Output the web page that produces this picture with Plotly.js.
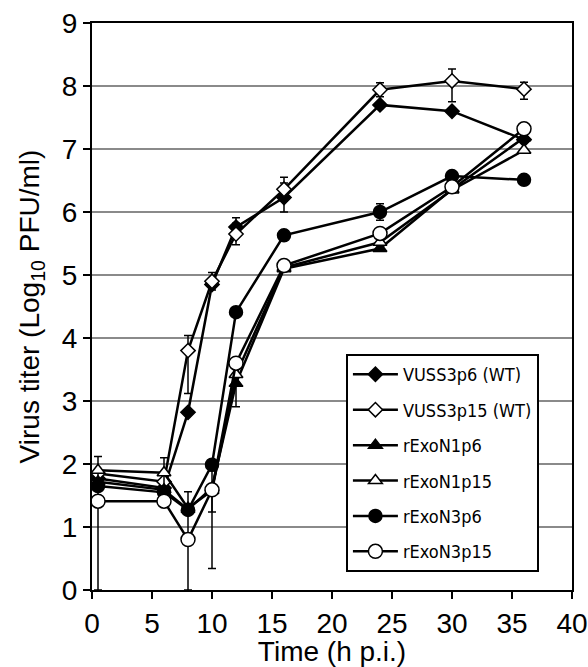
<!DOCTYPE html>
<html>
<head>
<meta charset="utf-8">
<script src="https://cdn.plot.ly/plotly-3.0.1.min.js"></script>
<style>html,body{margin:0;padding:0;background:#fff;}#chart{width:588px;height:667px;}</style>
</head>
<body>
<div id="chart"></div>
<script>
var times = [0.5, 6, 8, 10, 12, 16, 24, 30, 36];

var seriesNames = ["VUSS3p6 (WT)", "VUSS3p15 (WT)", "rExoN1p6", "rExoN1p15", "rExoN3p6", "rExoN3p15"];

var VUSS3p6   = [1.77, 1.62, 2.82, 4.85, 5.76, 6.23, 7.70, 7.60, 7.15];
var VUSS3p15  = [1.85, 1.72, 3.80, 4.90, 5.65, 6.36, 7.94, 8.08, 7.95];
var rExoN1p6  = [1.72, 1.59, 1.28, 1.62, 3.28, 5.10, 5.42, 6.36, 7.18];
var rExoN1p15 = [1.90, 1.86, 1.30, 1.58, 3.42, 5.12, 5.52, 6.35, 6.98];
var rExoN3p6  = [1.65, 1.55, 1.27, 1.99, 4.41, 5.63, 6.00, 6.57, 6.51];
var rExoN3p15 = [1.41, 1.41, 0.80, 1.59, 3.60, 5.15, 5.66, 6.40, 7.32];

var N = NaN;
var VUSS3p6_errPlus   = [N, N, N, N, 0.15, 0.23, N, N, N];
var VUSS3p6_errMinus  = [N, N, N, N, 0.15, 0.23, N, N, N];
var VUSS3p15_errPlus  = [N, N, 0.24, 0.14, 0.17, 0.19, 0.11, 0.19, 0.11];
var VUSS3p15_errMinus = [N, N, 0.68, 0.14, 0.17, 0.19, 0.11, 0.33, 0.16];
var rExoN1p6_errPlus  = [N, N, N, 0, 0, N, N, N, N];
var rExoN1p6_errMinus = [N, N, N, 0.38, 0.37, N, N, N, N];
var rExoN1p15_errPlus  = [0.22, 0.24, N, N, N, N, N, N, N];
var rExoN1p15_errMinus = [0.22, 0.24, N, N, N, N, N, N, N];
var rExoN3p6_errPlus  = [N, N, N, N, N, N, 0.13, N, N];
var rExoN3p6_errMinus = [N, N, N, N, N, N, 0.13, N, N];
var rExoN3p15_errPlus  = [0.3, N, 0.76, 0.3, N, N, N, N, N];
var rExoN3p15_errMinus = [1.41, N, 0.80, 1.25, N, N, N, N, N];

var values = [VUSS3p6, VUSS3p15, rExoN1p6, rExoN1p15, rExoN3p6, rExoN3p15];
var errP = [VUSS3p6_errPlus, VUSS3p15_errPlus, rExoN1p6_errPlus, rExoN1p15_errPlus, rExoN3p6_errPlus, rExoN3p15_errPlus];
var errM = [VUSS3p6_errMinus, VUSS3p15_errMinus, rExoN1p6_errMinus, rExoN1p15_errMinus, rExoN3p6_errMinus, rExoN3p15_errMinus];

var symbols = ["diamond", "diamond", "triangle-up", "triangle-up", "circle", "circle"];
var fills = ["#000", "#fff", "#000", "#fff", "#000", "#fff"];
var sizes = [11, 11, 12, 12, 13, 14];

var traces = values.map(function (v, i) {
  return {
    x: times, y: v, name: seriesNames[i], legendgroup: "g" + i,
    type: "scatter", mode: "lines+markers",
    line: {color: "#000", width: 2.5},
    marker: {symbol: symbols[i], size: sizes[i], color: fills[i], line: {color: "#000", width: 1.5}},
    error_y: {type: "data", symmetric: false, array: errP[i], arrayminus: errM[i], color: "#000", thickness: 1.5, width: 4}
  };
});

var fontFam = "Liberation Sans, Arial, Helvetica, sans-serif";
var layout = {
  width: 588, height: 667,
  margin: {l: 92, r: 16, t: 23, b: 77, pad: 0},
  paper_bgcolor: "#fff", plot_bgcolor: "#fff",
  font: {family: fontFam, color: "#000", size: 28},
  showlegend: true,
  legend: {
    x: 0.529, y: 0.416, xanchor: "left", yanchor: "top",
    bgcolor: "#fff", bordercolor: "#000", borderwidth: 2,
    traceorder: "grouped", tracegroupgap: 9,
    itemwidth: 45,
    font: {family: "DejaVu Sans Condensed, DejaVu Sans, sans-serif", size: 18, color: "#000"}
  },
  xaxis: {
    range: [0, 40], dtick: 5, tick0: 0,
    ticks: "outside", ticklen: 7, tickwidth: 1.5, tickcolor: "#000",
    showline: true, linewidth: 2, linecolor: "#000", mirror: true,
    showgrid: false, zeroline: false,
    tickfont: {size: 28, family: fontFam},
    title: {text: "Time (h p.i.)", font: {size: 28, family: fontFam}, standoff: 8}
  },
  yaxis: {
    range: [0, 9], dtick: 1, tick0: 0,
    ticks: "outside", ticklen: 7, tickwidth: 1.5, tickcolor: "#000",
    showline: true, linewidth: 2, linecolor: "#000", mirror: true,
    showgrid: true, gridcolor: "#8a8a8a", gridwidth: 1.5, zeroline: false,
    tickfont: {size: 28, family: fontFam},
    title: {text: "Virus titer (Log<sub>10</sub> PFU/ml)", font: {size: 28, family: fontFam}, standoff: 14}
  }
};

Plotly.newPlot("chart", traces, layout, {staticPlot: true, displayModeBar: false});
</script>
</body>
</html>
